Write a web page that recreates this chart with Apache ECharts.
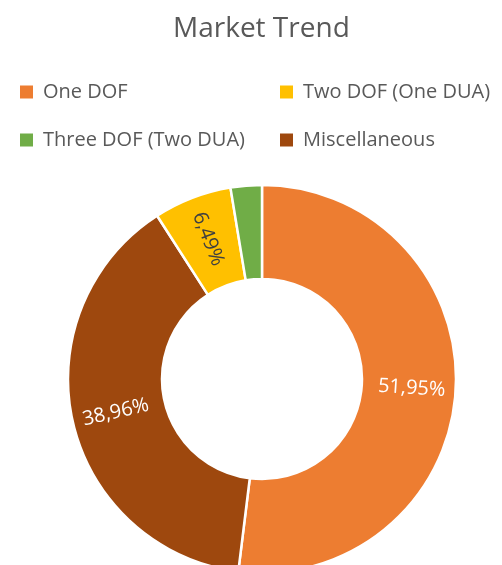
<!DOCTYPE html>
<html>
<head>
<meta charset="utf-8">
<style>
  html, body { margin: 0; padding: 0; background: #ffffff; }
  #chart { width: 502px; height: 565px; }
</style>
<script src="https://cdn.jsdelivr.net/npm/echarts@6/dist/echarts.min.js"></script>
</head>
<body>
<div id="chart"></div>
<script>
// Market share by segment (percent), in clockwise drawing order from 12 o'clock
var segments = ['One DOF', 'Miscellaneous', 'Two DOF (One DUA)', 'Three DOF (Two DUA)'];
var shares = [51.95, 38.96, 6.49, 2.60];
var colors = ['#ED7D31', '#9E480E', '#FFC000', '#70AD47'];
var labelColors = ['#ffffff', '#ffffff', '#404040', '#404040'];
var showLabel = [true, true, true, false];

// Legend columns
var legendLeft = ['One DOF', 'Three DOF (Two DUA)'];
var legendRight = ['Two DOF (One DUA)', 'Miscellaneous'];

var fontFamily = '"Open Sans", "Noto Sans", sans-serif';

function fmt(v) {
  return v.toFixed(2).replace('.', ',') + '%';
}

var data = segments.map(function (name, i) {
  return {
    name: name,
    value: shares[i],
    itemStyle: { color: colors[i] },
    label: { show: showLabel[i], color: labelColors[i] }
  };
});

var legendCommon = {
  orient: 'vertical',
  top: 75,
  icon: 'rect',
  itemWidth: 13,
  itemHeight: 13,
  itemGap: 24,
  itemStyle: { borderWidth: 0 },
  textStyle: { color: '#595959', fontSize: 20, lineHeight: 24, fontFamily: fontFamily, padding: [0, 0, 0, 5] },
  selectedMode: false
};

var chart = echarts.init(document.getElementById('chart'), null, { renderer: 'canvas' });
chart.setOption({
  animation: false,
  backgroundColor: '#ffffff',
  title: {
    text: 'Market Trend',
    left: 168,
    top: 10,
    textStyle: { color: '#595959', fontSize: 28, fontWeight: 'normal', fontFamily: fontFamily }
  },
  legend: [
    Object.assign({}, legendCommon, { left: 15, data: legendLeft }),
    Object.assign({}, legendCommon, { left: 275, data: legendRight })
  ],
  series: [{
    type: 'pie',
    center: [262, 379],
    radius: [100, 194],
    startAngle: 90,
    clockwise: true,
    avoidLabelOverlap: false,
    itemStyle: { borderColor: '#ffffff', borderWidth: 2.5 },
    label: {
      show: true,
      position: 'inside',
      rotate: 'radial',
      fontSize: 20,
      fontFamily: fontFamily,
      formatter: function (p) { return fmt(p.value); }
    },
    labelLine: { show: false },
    data: data
  }]
});
</script>
</body>
</html>
